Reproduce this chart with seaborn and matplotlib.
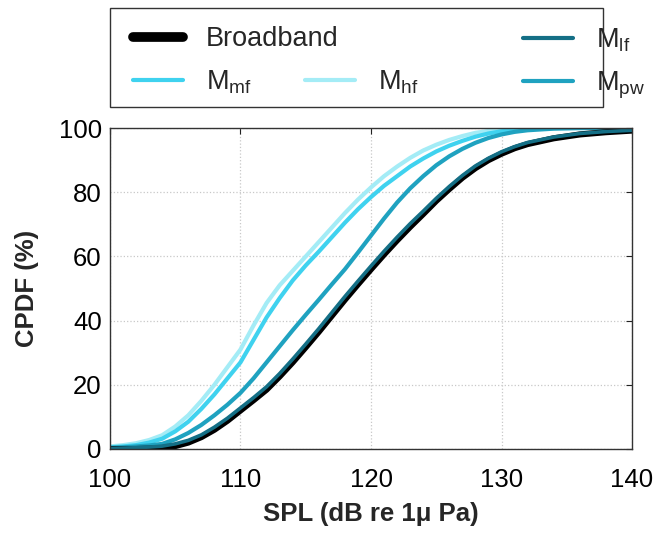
import numpy as np
import pandas as pd
import matplotlib
matplotlib.use("Agg")
import matplotlib.pyplot as plt
from matplotlib.lines import Line2D
from matplotlib.patches import Rectangle
import seaborn as sns

# Sound pressure level grid (dB re 1 uPa)
spl = list(range(100, 133)) + [134, 136, 138, 140]

# Cumulative probability (%) for each band
broadband = [0.0, 0.0, 0.0, 0.1, 0.3, 0.9, 2.0, 3.7, 6.0, 8.8,
             12.0, 15.2, 18.5, 22.6, 27.0, 31.7, 36.5, 41.5, 46.5, 51.3,
             56.0, 60.6, 65.0, 69.2, 73.2, 77.3, 81.0, 84.5, 87.5, 90.0,
             92.0, 93.7, 95.0, 96.8, 98.0, 98.7, 99.2]
m_lf = [0.2, 0.3, 0.4, 0.6, 0.9, 1.6, 2.7, 4.4, 6.8, 9.6,
        12.8, 16.0, 19.4, 23.5, 28.0, 32.7, 37.5, 42.5, 47.5, 52.3,
        57.0, 61.6, 66.0, 70.2, 74.1, 78.1, 81.8, 85.2, 88.2, 90.6,
        92.6, 94.2, 95.5, 97.2, 98.3, 98.9, 99.3]
m_mf = [0.5, 0.8, 1.2, 2.0, 3.2, 5.5, 8.5, 12.5, 17.0, 22.0,
        27.0, 34.0, 41.0, 47.0, 52.5, 57.2, 61.5, 66.0, 70.5, 74.7,
        78.5, 82.0, 85.0, 88.0, 90.5, 92.7, 94.5, 96.0, 97.3, 98.3,
        99.0, 99.4, 99.7, 100.0, 100.0, 100.0, 100.0]
m_hf = [0.8, 1.2, 1.8, 2.8, 4.3, 7.0, 10.5, 15.0, 20.0, 25.5,
        31.0, 38.5, 45.5, 51.0, 55.5, 60.0, 64.5, 69.0, 73.5, 77.7,
        81.5, 85.0, 88.0, 90.7, 93.0, 94.8, 96.3, 97.5, 98.5, 99.1,
        99.5, 99.8, 100.0, 100.0, 100.0, 100.0, 100.0]
m_pw = [0.3, 0.5, 0.8, 1.1, 1.6, 3.0, 5.0, 7.5, 10.5, 13.8,
        17.5, 22.0, 27.0, 32.0, 37.0, 41.8, 46.5, 51.3, 56.0, 61.2,
        66.5, 71.8, 76.8, 81.2, 85.0, 88.4, 91.2, 93.5, 95.4, 96.9,
        98.0, 98.8, 99.3, 99.8, 100.0, 100.0, 100.0]

series = {
    "Broadband": broadband,
    "M_lf": m_lf,
    "M_mf": m_mf,
    "M_hf": m_hf,
    "M_pw": m_pw,
}
colors = {
    "Broadband": "#000000",
    "M_lf": "#146f86",
    "M_mf": "#3fd2ef",
    "M_hf": "#a4ecf6",
    "M_pw": "#1fa2c0",
}
labels = {
    "Broadband": "Broadband",
    "M_lf": r"M$_{\mathrm{lf}}$",
    "M_mf": r"M$_{\mathrm{mf}}$",
    "M_hf": r"M$_{\mathrm{hf}}$",
    "M_pw": r"M$_{\mathrm{pw}}$",
}

df = pd.DataFrame({"SPL": np.tile(spl, len(series)),
                   "CPDF": np.concatenate([series[k] for k in series]),
                   "band": np.repeat(list(series.keys()), len(spl))})

sns.set_style("white")
plt.rcParams["font.family"] = ["Liberation Sans", "DejaVu Sans"]
plt.rcParams["mathtext.fontset"] = "custom"
plt.rcParams["mathtext.rm"] = "Liberation Sans"
plt.rcParams["mathtext.it"] = "Liberation Sans:italic"

fig = plt.figure(figsize=(6.57, 5.33), dpi=100)
ax = fig.add_axes([0.1674, 0.1576, 0.7946, 0.6022])

draw_order = ["M_hf", "M_mf", "M_pw", "Broadband", "M_lf"]
widths = {"Broadband": 4.4, "M_lf": 2.6, "M_mf": 3.0, "M_hf": 3.0, "M_pw": 3.0}
for key in draw_order:
    sub = df[df["band"] == key]
    sns.lineplot(data=sub, x="SPL", y="CPDF", ax=ax, color=colors[key],
                 linewidth=widths[key], legend=False, estimator=None)

ax.set_xlim(100, 140)
ax.set_ylim(0, 100)
ax.set_xticks([100, 110, 120, 130, 140])
ax.set_yticks([0, 20, 40, 60, 80, 100])
ax.grid(True, linestyle=":", color="#c8c8c8", linewidth=0.9)
ax.tick_params(direction="in", length=4, width=0.8, top=True, right=True,
               labelsize=18.5, colors="#222222", labelcolor="black")
ax.tick_params(axis="x", pad=14)
ax.tick_params(axis="y", pad=6)
for s in ax.spines.values():
    s.set_color("#333333")
    s.set_linewidth(1.0)
ax.set_xlabel("SPL (dB re 1\u03bc Pa)", fontsize=18.5, fontweight="bold", labelpad=7)
ax.set_ylabel("CPDF (%)", fontsize=18.5, fontweight="bold", labelpad=14)

# Legend frame
fig.add_artist(Rectangle((0.1674, 0.7992), 0.7504, 0.1857, transform=fig.transFigure,
                         facecolor="white", edgecolor="#333333", linewidth=1.0))

# Legend entries in three columns; the middle column has only its second row
def line_handle(key, lw=3):
    return Line2D([], [], color=colors[key], linewidth=lw)

blank = Line2D([], [], color="none")
columns = [
    ([line_handle("Broadband", 7), line_handle("M_mf")],
     [labels["Broadband"], labels["M_mf"]], 133 / 657),
    ([blank, line_handle("M_hf")], ["", labels["M_hf"]], 305 / 657),
    ([line_handle("M_lf"), line_handle("M_pw")],
     [labels["M_lf"], labels["M_pw"]], 523 / 657),
]
for handles, labs, x0 in columns:
    fig.legend(handles, labs, loc="upper left", bbox_to_anchor=(x0, 0.951),
               frameon=False, fontsize=19.5, handlelength=1.85,
               handletextpad=0.85, borderaxespad=0, borderpad=0,
               labelspacing=0.6)

fig.savefig("out.png", dpi=100)
